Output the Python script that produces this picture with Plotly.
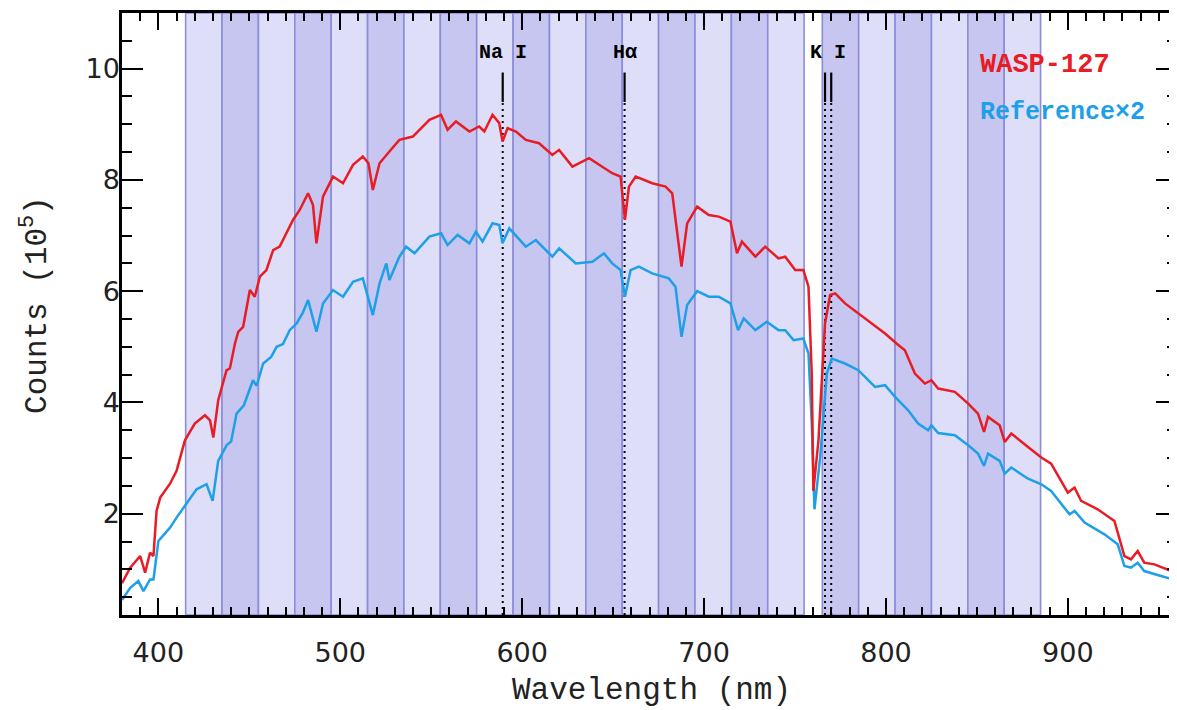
import plotly.graph_objects as go

# ---------------- data ----------------
red_wl = [380, 384.5, 390, 392.7, 395.4, 397.3, 399, 401, 406.4, 410, 414.6, 420, 425.6, 428.4, 430.2,
          432.9, 437.5, 439.3, 442.1, 443.9, 446.6, 450.3, 453, 455.8, 459.4, 463.1, 466.7, 470.4,
          474, 477.7, 482.3, 485, 486.9, 490.5, 496, 501.5, 507,
          512.4, 515.5, 517.9, 521.6, 527, 532.5, 539.9, 549, 555.4, 559, 563.6, 571, 576.4, 579.2,
          583.7, 587.4, 589.2, 592, 596.6, 602, 609.3, 616.6, 620.3, 627.6, 636.8, 642.2, 649.5, 654.1,
          656.5, 658.7, 662.4, 671.5, 678.8, 682.5, 685.2, 687.6, 690.7, 696.2, 702.6, 708.1, 714.5,
          718.1, 720.8, 728.2, 733.6, 740.9, 744.6, 750.1, 754.6, 757.4, 759.2, 760.1, 762.9, 766.5,
          769.3, 772.1, 777.5, 784.8, 794, 799.5, 805.8, 810.4, 815.9, 821.4, 825, 828.7, 837.9, 845.2,
          850.6, 853.9, 856.1, 862.5, 865.3, 868.9, 878.1, 885.4, 890.8, 900, 903.7, 907.3, 916.4,
          925.6, 931.1, 934.7, 938.4, 942, 947.6, 954.9, 960]
red_val = [0.75, 1.03, 1.24, 0.94, 1.30, 1.24, 2.05, 2.29, 2.54, 2.77, 3.32, 3.62, 3.77, 3.68, 3.37,
           4.04, 4.58, 4.61, 5.06, 5.27, 5.36, 6.02, 5.90, 6.26, 6.38, 6.74, 6.80, 7.04,
           7.28, 7.46, 7.76, 7.55, 6.86, 7.70, 8.06, 7.94, 8.27,
           8.42, 8.30, 7.82, 8.30, 8.51, 8.72, 8.78, 9.08, 9.17, 8.90, 9.05, 8.87, 8.96, 8.87,
           9.17, 9.02, 8.69, 8.93, 8.87, 8.72, 8.66, 8.45, 8.54, 8.24, 8.39, 8.27, 8.12, 8.06,
           7.28, 7.88, 8.06, 7.94, 7.88, 7.76, 7.10, 6.44, 7.22, 7.52, 7.37, 7.34, 7.25,
           6.68, 6.89, 6.62, 6.80, 6.59, 6.62, 6.38, 6.38, 6.08, 4.52, 2.41, 3.32, 5.42,
           5.93, 5.96, 5.78, 5.60, 5.36, 5.24, 5.06, 4.94, 4.52, 4.34, 4.40, 4.25, 4.19, 3.98,
           3.80, 3.47, 3.74, 3.59, 3.29, 3.44, 3.20, 3.01, 2.90, 2.38, 2.47, 2.23, 2.08,
           1.87, 1.24, 1.18, 1.33, 1.12, 1.09, 1.00, 0.93]

ref_wl = [380, 384.5, 389, 391.8, 395.4, 397.3, 400, 406.4, 410, 414.6, 421, 426.5, 429.8, 432.9, 437.5,
          440, 443, 447, 452, 454, 457.6, 462, 465, 468.5, 472.2, 476, 479.5, 482.3, 486.9, 490.5,
          496, 501.5, 507, 512.4, 517.9, 521.6,
          525.3, 527, 532.5, 536.2, 540.8, 549, 555.4, 559, 564.5, 571, 574.6, 578.2, 583.7, 587.4,
          589.2, 592.9, 602, 607.5, 616.6, 620.3, 629.5, 638.6, 645, 649.5, 654.1, 656.5, 659.6,
          664.2, 671.5, 680.6, 684.3, 687.6, 690.7, 696.2, 702.6, 708.1, 714.5, 718.7, 721.8, 728.2,
          734.5, 740.9, 744.6, 749.2, 754.6, 757.4, 759.2, 760.7, 763.8, 767.5, 770.2, 777.5, 784.8,
          794, 799.5, 805, 812.2, 817.7, 823.2, 825, 828.7, 837.9, 845.2, 850.6, 853.9, 856.1, 862.5,
          865.3, 868.9, 878.1, 885.4, 890.8, 900.9, 903.7, 909.2, 920.1, 927.4, 931.1, 934.7, 938.4,
          942, 951.2, 960]
ref_val = [0.45, 0.67, 0.79, 0.61, 0.82, 0.82, 1.51, 1.75, 1.93, 2.14, 2.44, 2.53, 2.23, 2.95, 3.23,
           3.30, 3.80, 3.95, 4.40, 4.30, 4.70, 4.82, 5.00, 5.05, 5.30, 5.42, 5.62, 5.84, 5.27, 5.78,
           6.02, 5.90, 6.17, 6.23, 5.57, 6.14,
           6.50, 6.20, 6.62, 6.80, 6.68, 6.98, 7.04, 6.83, 7.01, 6.86, 7.07, 6.89, 7.22, 7.19,
           6.86, 7.13, 6.80, 6.92, 6.62, 6.77, 6.50, 6.53, 6.68, 6.50, 6.38, 5.90, 6.38,
           6.44, 6.32, 6.23, 6.08, 5.18, 5.75, 6.00, 5.90, 5.90, 5.78, 5.30, 5.51, 5.30,
           5.45, 5.30, 5.30, 5.12, 5.15, 4.88, 3.62, 2.08, 3.01, 4.52, 4.79, 4.70, 4.58,
           4.28, 4.31, 4.10, 3.86, 3.62, 3.50, 3.59, 3.45, 3.41, 3.23, 3.08, 2.86, 3.08, 2.95,
           2.72, 2.83, 2.63, 2.53, 2.41, 1.99, 2.05, 1.84, 1.63, 1.45, 1.06, 1.03, 1.12,
           0.97, 0.88, 0.80]

# spectroscopic channels (bin start wavelengths, 20 nm wide)
bin_starts = [415, 435, 455, 475, 495, 515, 535, 555, 575, 595, 615, 635, 655, 675, 695, 715, 735,
              765, 785, 805, 825, 845, 865]
bin_width = 20

# marked stellar / atomic lines
line_names = ["Na I", "Hα", "K I"]
line_label_wl = [589.3, 656.8, 768.2]
line_wl = [[589.3], [656.3], [766.5, 769.9]]

x_range = [380, 960]
y_range = [0.18, 11.0]

# ---------------- figure ----------------
fig = go.Figure()

light = "rgb(222,222,248)"
dark = "rgb(198,198,240)"
edge = "rgb(140,140,218)"
for i, x0 in enumerate(bin_starts):
    fig.add_vrect(x0=x0, x1=x0 + bin_width, fillcolor=light if i % 2 == 0 else dark,
                  line=dict(color=edge, width=1.6), layer="below", opacity=1)

solid_top, solid_bot = 9.93, 9.40
for wls in line_wl:
    for w in wls:
        fig.add_trace(go.Scatter(x=[w, w], y=[y_range[0], solid_bot], mode="lines",
                                 line=dict(color="black", width=2, dash="2px,4px"),
                                 showlegend=False, hoverinfo="skip"))
        fig.add_trace(go.Scatter(x=[w, w], y=[solid_bot, solid_top], mode="lines",
                                 line=dict(color="black", width=2.2),
                                 showlegend=False, hoverinfo="skip"))

fig.add_trace(go.Scatter(x=ref_wl, y=ref_val, mode="lines",
                         line=dict(color="rgb(30,160,232)", width=2.5), name="Reference×2",
                         showlegend=False))
fig.add_trace(go.Scatter(x=red_wl, y=red_val, mode="lines",
                         line=dict(color="rgb(232,28,36)", width=2.5), name="WASP-127",
                         showlegend=False))

for name, xw in zip(line_names, line_label_wl):
    fig.add_annotation(x=xw, y=10.29, xref="x", yref="y", text="<b>" + name + "</b>",
                       showarrow=False, font=dict(family="Liberation Mono", size=20, color="black"))

fig.add_annotation(x=850.6, y=10.07, xref="x", yref="y", xanchor="left", text="<b>WASP-127</b>",
                   showarrow=False, font=dict(family="Liberation Mono", size=27, color="rgb(232,28,36)"))
fig.add_annotation(x=850.6, y=9.21, xref="x", yref="y", xanchor="left", text="<b>Reference×2</b>",
                   showarrow=False, font=dict(family="Liberation Mono", size=25, color="rgb(30,160,232)"))

# axis titles
fig.add_annotation(x=0.502, y=-0.1246, xref="paper", yref="paper", text="Wavelength (nm)",
                   showarrow=False, xanchor="center", yanchor="middle",
                   font=dict(family="Liberation Mono", size=31, color="#222"))
fig.add_annotation(x=-0.0825, y=0.515, xref="paper", yref="paper", text="Counts (10<sup>5</sup>)",
                   showarrow=False, xanchor="center", yanchor="middle", textangle=-90,
                   font=dict(family="Liberation Mono", size=31, color="#222"))

axis_common = dict(showline=True, linecolor="black", linewidth=2.5, mirror="allticks",
                   ticks="inside", tickcolor="black", tickwidth=2.2, showgrid=False, zeroline=False,
                   automargin=False,
                   tickfont=dict(family="DejaVu Sans", size=27, color="#222"))

fig.update_xaxes(range=x_range, dtick=100, tick0=0, ticklen=17,
                 minor=dict(dtick=10, ticklen=8, tickwidth=2, tickcolor="black", ticks="inside"),
                 ticklabelstandoff=12, **axis_common)
fig.update_yaxes(range=y_range, dtick=2, tick0=0, ticklen=21,
                 minor=dict(dtick=0.5, ticklen=10, tickwidth=2, tickcolor="black", ticks="inside"),
                 ticklabelstandoff=-6, **axis_common)

# the page adds an 8 px body margin, so the figure is sized to fill the rest of the window
fig.update_layout(width=1169, height=702, margin=dict(l=114, r=0, t=5, b=95),
                  plot_bgcolor="white", paper_bgcolor="white", showlegend=False)

fig.write_html("out.html")
